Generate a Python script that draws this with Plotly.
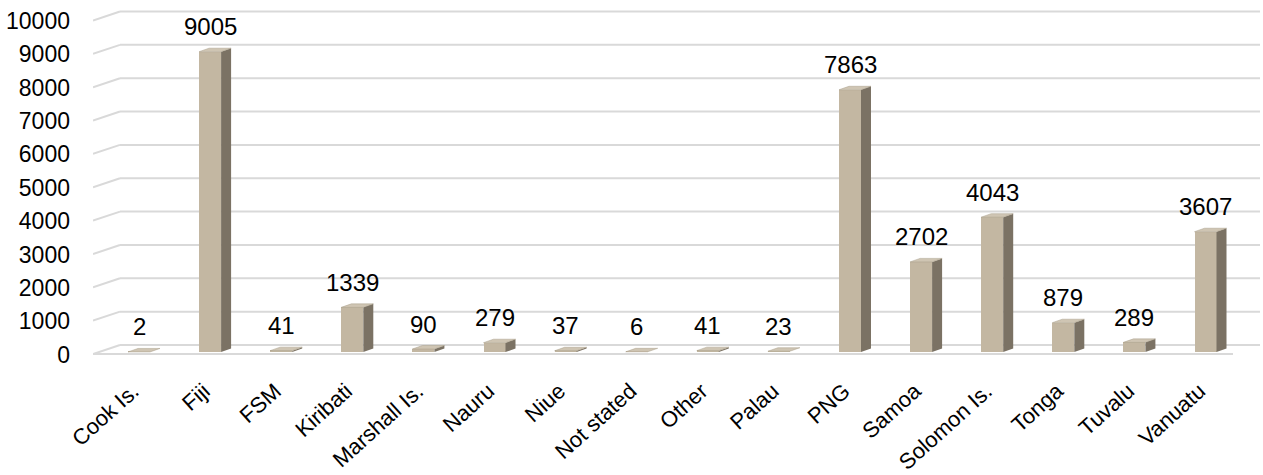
import plotly.graph_objects as go

categories = ["Cook Is.", "Fiji", "FSM", "Kiribati", "Marshall Is.", "Nauru", "Niue",
              "Not stated", "Other", "Palau", "PNG", "Samoa", "Solomon Is.", "Tonga",
              "Tuvalu", "Vanuatu"]
values = [2, 9005, 41, 1339, 90, 279, 37, 6, 41, 23, 7863, 2702, 4043, 879, 289, 3607]
y_ticks = list(range(0, 10001, 1000))

FRONT = "#c3b7a2"
SIDE = "#7b7264"
TOP = "#cfc5b3"
GRID = "#d9d9d9"
FONT = "Liberation Sans, Arial, sans-serif"

W = 1263
H = 475
left, right, top, bottom = 93, 0, 4, 102
px_per_cat = 71.1
x0_px = 139
xr = [(left - x0_px) / px_per_cat, (W - right - x0_px) / px_per_cat]
ppu = 0.03335  # px per unit
zero_px = 352
yr = [-(H - bottom - zero_px) / ppu, (zero_px - top) / ppu]

def px_to_x(p):
    return (p - x0_px) / px_per_cat

bw = 22 / px_per_cat
dx = 10 / px_per_cat
dy = 3.5 / ppu

xs = list(range(len(categories)))

fig = go.Figure()

shapes = []
gf = 2.0 / ppu
gb = 7.0 / ppu
for v in y_ticks:
    shapes.append(dict(type="line", xref="x", yref="y", x0=px_to_x(93), y0=v - gf,
                       x1=px_to_x(120), y1=v + gb, line=dict(color=GRID, width=2), layer="below"))
    shapes.append(dict(type="line", xref="x", yref="y", x0=px_to_x(120), y0=v + gb,
                       x1=px_to_x(1260), y1=v + gb, line=dict(color=GRID, width=2), layer="below"))
shapes.append(dict(type="line", xref="x", yref="y", x0=px_to_x(93), y0=-gf,
                   x1=px_to_x(1233), y1=-gf, line=dict(color=GRID, width=2), layer="below"))

sx, sy = [], []
tx, ty = [], []
for x, v in zip(xs, values):
    r = x + bw / 2
    l = x - bw / 2
    sx += [r, r + dx, r + dx, r, r, None]
    sy += [0, dy, v + dy, v, 0, None]
    tx += [l, r, r + dx, l + dx, l, None]
    ty += [v, v, v + dy, v + dy, v, None]

fig.add_trace(go.Scatter(x=sx, y=sy, fill="toself", fillcolor=SIDE, mode="lines",
                         line=dict(width=0, color=SIDE), hoverinfo="skip", showlegend=False))
fig.add_trace(go.Scatter(x=tx, y=ty, fill="toself", fillcolor=TOP, mode="lines",
                         line=dict(width=0.5, color="#a99e8b"), hoverinfo="skip", showlegend=False))
fig.add_trace(go.Bar(x=xs, y=values, width=bw, marker=dict(color=FRONT, line=dict(width=0)),
                     showlegend=False))

annotations = []
for x, v in zip(xs, values):
    annotations.append(dict(x=x, y=v, xref="x", yref="y", text=str(v), showarrow=False,
                            yshift=25, yanchor="middle", font=dict(size=24, color="#000000", family=FONT)))

fig.update_layout(
    width=W, height=H,
    margin=dict(l=left, r=right, t=top, b=bottom, pad=0, autoexpand=False),
    paper_bgcolor="white", plot_bgcolor="white",
    shapes=shapes, annotations=annotations,
    font=dict(family=FONT, size=22, color="#000000"),
    xaxis=dict(range=xr, tickmode="array", tickvals=xs, ticktext=categories, tickangle=-42,
               showgrid=False, zeroline=False, showline=False, ticks="", automargin=False,
               ticklabelshift=-6, tickfont=dict(size=22)),
    yaxis=dict(range=yr, tickmode="array", tickvals=[v - 2.5 / ppu for v in y_ticks],
               ticktext=[str(v) for v in y_ticks], showgrid=False, zeroline=False, automargin=False,
               showline=False, ticks="", ticklabelstandoff=22, tickfont=dict(size=23)),
    bargap=0,
)

fig.write_html("out.html", config={"displayModeBar": False},
               post_script="document.body.style.margin='0';document.body.style.overflow='hidden';")
